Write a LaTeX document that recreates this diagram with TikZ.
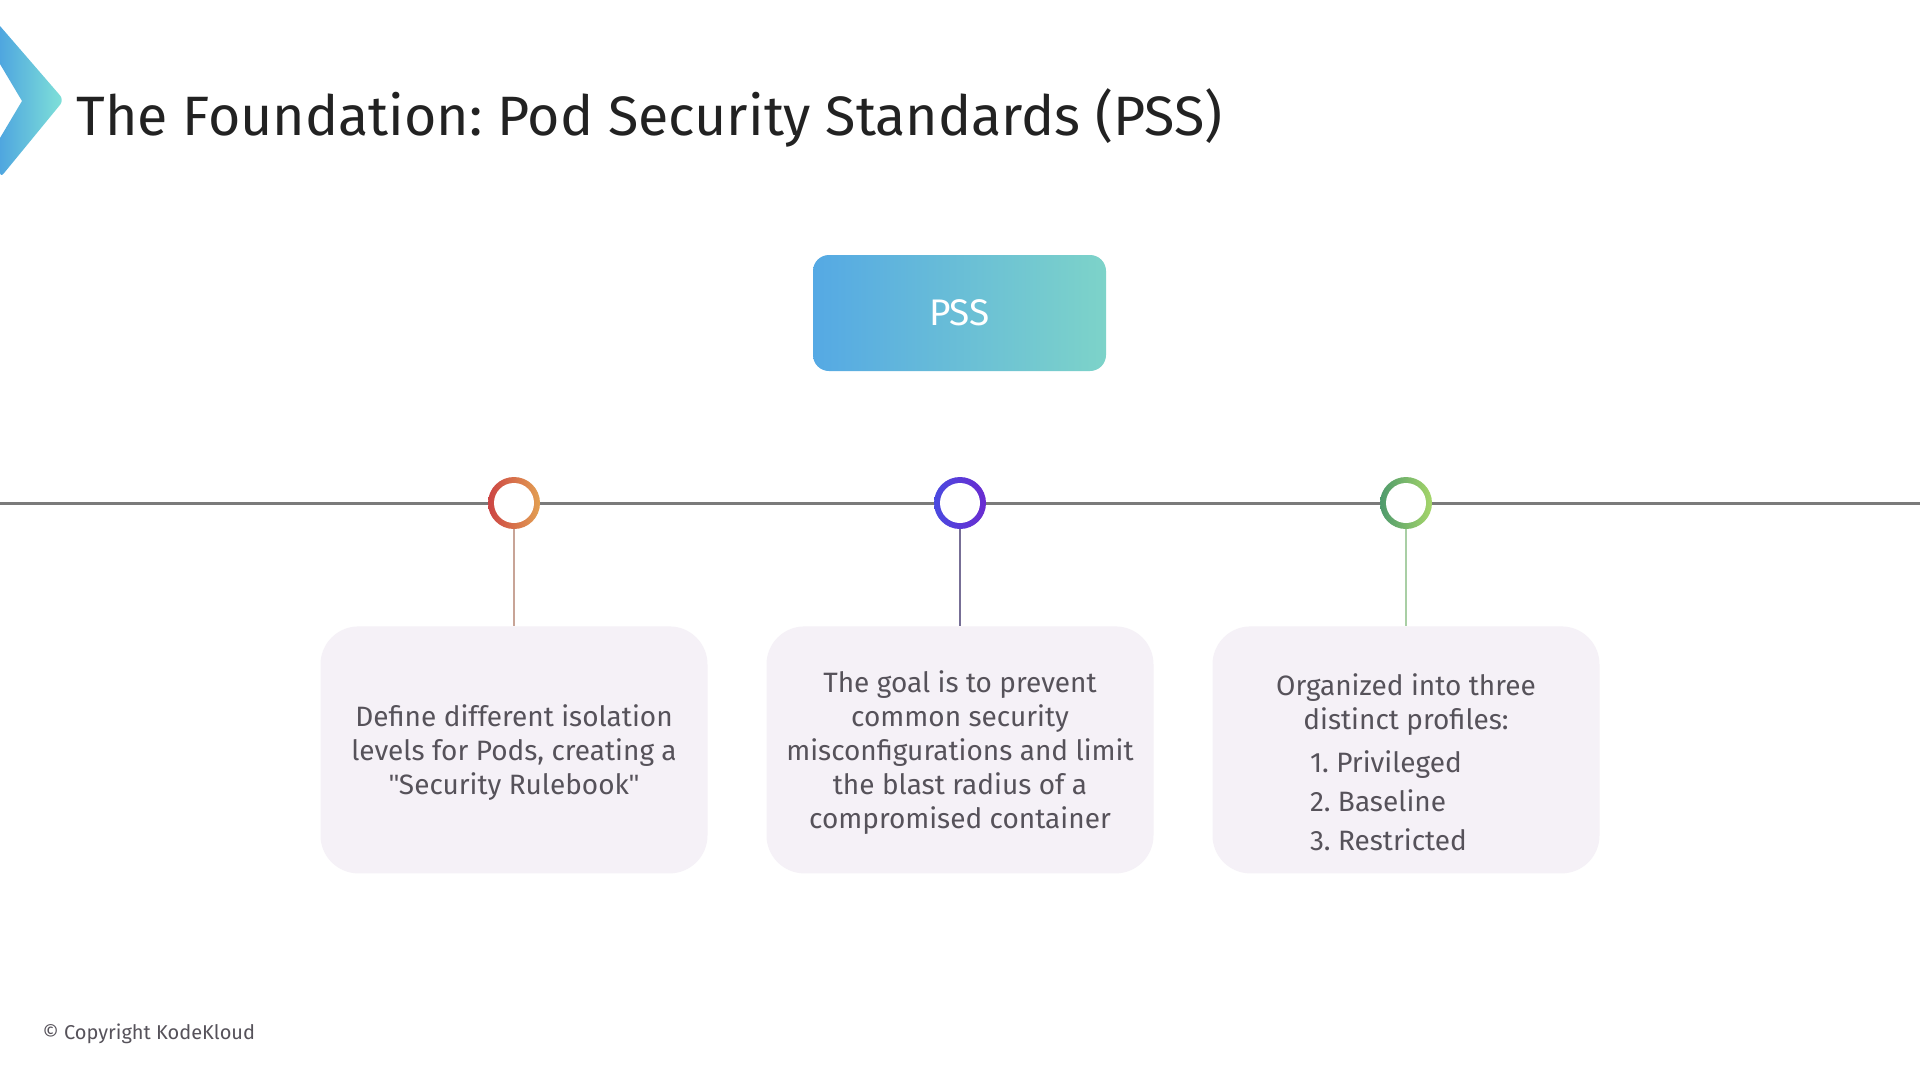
\documentclass[tikz,border=0pt]{standalone}
\usepackage{fontspec}
\setmainfont{Fira Sans}[Ligatures=ResetAll]
\newfontfamily\quotefont{Liberation Sans}
\usetikzlibrary{positioning}
\frenchspacing

\definecolor{titlegray}{HTML}{222222}
\definecolor{textgray}{HTML}{56525A}
\definecolor{linegray}{HTML}{7A7A7A}
\definecolor{boxfill}{HTML}{F5F1F7}
\definecolor{pssblue}{HTML}{55A9E4}
\definecolor{pssteal}{HTML}{7DD3C9}
\definecolor{logoblue}{HTML}{4FA6DF}
\definecolor{logoteal}{HTML}{80E2D8}
\definecolor{redA}{HTML}{CC4444}
\definecolor{redB}{HTML}{E3A052}
\definecolor{purpA}{HTML}{4A4AE0}
\definecolor{purpB}{HTML}{6A2BD0}
\definecolor{greenA}{HTML}{4E9A6C}
\definecolor{greenB}{HTML}{A6D66A}
\definecolor{stemred}{HTML}{C8A497}
\definecolor{stempurp}{HTML}{776F96}
\definecolor{stemgreen}{HTML}{A9CFA5}

\newcommand{\dq}{{\quotefont"}}

\tikzset{
  pssbox/.style={rectangle, rounded corners=16pt, minimum width=293pt, minimum height=116pt,
    left color=pssblue, right color=pssteal, text=white, font=\fontsize{37}{40}\selectfont},
  ring/.style={circle, minimum size=52pt, inner sep=0pt},
  infobox/.style={rectangle, rounded corners=38pt, fill=boxfill, minimum width=387pt,
    minimum height=247pt, align=center, text=textgray, font=\fontsize{28}{34}\selectfont},
  stem/.style={line width=1.5pt},
  timeline/.style={line width=3pt, linegray}
}

\begin{document}
\begin{tikzpicture}[x=1pt, y=-1pt]
        \useasboundingbox (0,0) rectangle (1920,1080);
        \fill[white] (0,0) rectangle (1920,1080);

        % Logo y titulo
        \shade[left color=logoblue, right color=logoteal, rounded corners=6pt]
          (0,26) -- (64,100) -- (0,178) [sharp corners] -- (0,138) -- (22,101) -- (0,64) -- cycle;
        \node[anchor=base west, text=titlegray, font=\fontsize{55.5}{60}\selectfont] (title) at (73,135)
          {The Foundation: Pod Security Standards (PSS)};

        \node[pssbox] (pss) at (959.5,313) {PSS};

        % Linea de tiempo
        \coordinate (tl-l) at (0,503);
        \coordinate (tl-r) at (1920,503);
        \draw[timeline] (tl-l) -- (tl-r);

        % Puntos
        \node[ring, left color=redA, right color=redB] (c1) at (514,503) {};
        \node[ring, left color=purpA, right color=purpB] (c2) at (960,503) {};
        \node[ring, left color=greenA, right color=greenB] (c3) at (1406,503) {};
        \fill[white] (c1.center) circle (20pt);
        \fill[white] (c2.center) circle (20pt);
        \fill[white] (c3.center) circle (20pt);

        % Cajas
        \node[infobox, below=97pt of c1] (b1)
          {\rule{0pt}{28pt}Define different isolation\\levels for Pods, creating a\\\dq Security Rulebook\dq};
        \node[infobox, below=97pt of c2] (b2)
          {\rule{0pt}{28pt}The goal is to prevent\\common security\\misconfigurations and limit\\the blast radius of a\\compromised container};
        \node[infobox, below=97pt of c3] (b3)
          {\rule{0pt}{46pt}Organized into three\\distinct profiles:\\[9pt]
           \makebox[192pt][l]{1. Privileged}\\[5pt]
           \makebox[192pt][l]{2. Baseline}\\[5pt]
           \makebox[192pt][l]{3. Restricted}};

        \draw[stem, stemred] (c1) -- (b1);
        \draw[stem, stempurp] (c2) -- (b2);
        \draw[stem, stemgreen] (c3) -- (b3);

        \node[anchor=base west, text=textgray, font=\fontsize{20}{24}\selectfont] (copy) at (39,1039)
          {© Copyright KodeKloud};
    \end{tikzpicture}
\end{document}
